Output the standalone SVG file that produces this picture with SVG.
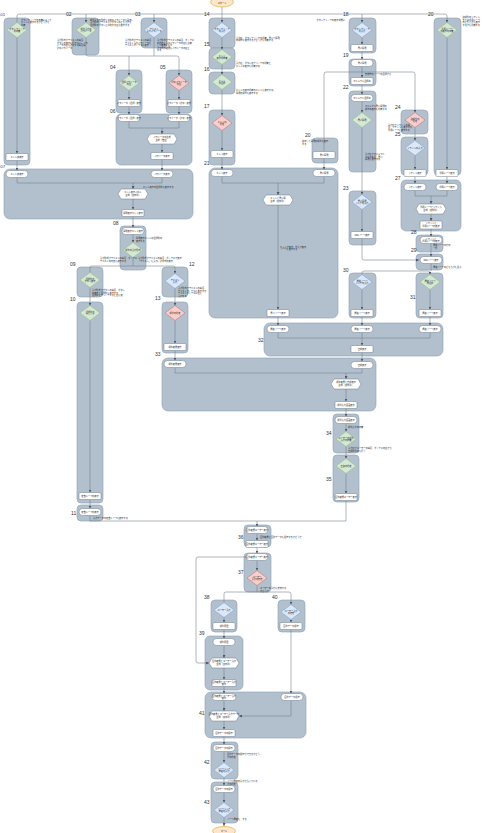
<svg xmlns="http://www.w3.org/2000/svg" xmlns:xlink="http://www.w3.org/1999/xlink" width="482" height="833" viewBox="0 0 482 833">
<style>
.c{fill:#b2c0ce;stroke:#8e9fb2;stroke-width:.6}
.dg{fill:#d5e8d4;stroke:#82b366;stroke-width:.4}
.db{fill:#dae8fc;stroke:#6c8ebf;stroke-width:.4}
.dr{fill:#f8cecc;stroke:#b85450;stroke-width:.4}
.n{fill:#fff;stroke:#5f6f80;stroke-width:.45}
.se{fill:#ffe6cc;stroke:#d79b00;stroke-width:.5}
.e{fill:none;stroke:#6f7a86;stroke-width:.55;marker-end:url(#ar)}
.l{fill:none;stroke:#6f7a86;stroke-width:.55}
text{font-family:"Noto Sans CJK JP","Noto Sans",sans-serif;fill:#222}
.t{font-size:2.2px;text-anchor:middle}
.a{font-size:2.2px}
.num{font-family:"Liberation Sans",sans-serif;font-size:5px;fill:#333}
</style>
<defs>
<marker id="ar" viewBox="0 0 6 6" refX="6" refY="3" markerWidth="3" markerHeight="3" orient="auto" markerUnits="userSpaceOnUse"><path d="M0,0L6,3L0,6Z" fill="#4d5763"/></marker>
<path id="dm" d="M-10,0L0,-7.5L10,0L0,7.5Z"/>
<path id="hx" d="M-15,0L-12,-5L12,-5L15,0L12,5L-12,5Z"/>
</defs>
<rect width="482" height="833" fill="#fff"/>

<g id="containers">
<rect class="c" x="4" y="18" width="26" height="147" rx="4"/>
<rect class="c" x="72" y="18" width="27" height="37" rx="4"/>
<rect class="c" x="141" y="18" width="26" height="30" rx="4"/>
<rect class="c" x="116" y="70" width="26" height="43" rx="4"/>
<rect class="c" x="166" y="70" width="26" height="43" rx="4"/>
<rect class="c" x="116" y="114" width="76" height="51" rx="5"/>
<rect class="c" x="4" y="169" width="189" height="50" rx="6"/>
<rect class="c" x="120" y="226" width="26" height="44" rx="4"/>
<rect class="c" x="77" y="267" width="26" height="30" rx="4"/>
<rect class="c" x="77" y="302" width="26" height="201" rx="4"/>
<rect class="c" x="77" y="505" width="26" height="16" rx="4"/>
<rect class="c" x="162" y="267" width="26" height="30" rx="4"/>
<rect class="c" x="162" y="302" width="26" height="51" rx="4"/>
<rect class="c" x="162" y="358" width="214" height="53" rx="6"/>
<rect class="c" x="209" y="18" width="26" height="30" rx="4"/>
<rect class="c" x="209" y="48" width="26" height="21" rx="4"/>
<rect class="c" x="209" y="72" width="26" height="22" rx="4"/>
<rect class="c" x="209" y="110" width="26" height="55" rx="4"/>
<rect class="c" x="209" y="168" width="129" height="150" rx="6"/>
<rect class="c" x="312" y="138" width="26" height="25" rx="4"/>
<rect class="c" x="349" y="18" width="27" height="35" rx="4"/>
<rect class="c" x="349" y="59" width="27" height="27" rx="4"/>
<rect class="c" x="349" y="91" width="27" height="81" rx="4"/>
<rect class="c" x="349" y="191" width="27" height="54" rx="4"/>
<rect class="c" x="401" y="110" width="27" height="24" rx="4"/>
<rect class="c" x="401" y="137" width="27" height="38" rx="4"/>
<rect class="c" x="434" y="18" width="27" height="157" rx="4"/>
<rect class="c" x="401" y="180" width="60" height="51" rx="5"/>
<rect class="c" x="416" y="235" width="27" height="17" rx="4"/>
<rect class="c" x="416" y="254" width="27" height="16" rx="4"/>
<rect class="c" x="349" y="273" width="27" height="45" rx="4"/>
<rect class="c" x="416" y="273" width="27" height="45" rx="4"/>
<rect class="c" x="264" y="323" width="179" height="33" rx="6"/>
<rect class="c" x="333" y="414" width="26" height="39" rx="4"/>
<rect class="c" x="333" y="455" width="26" height="47" rx="4"/>
<rect class="c" x="244" y="525" width="27" height="22" rx="4"/>
<rect class="c" x="244" y="553" width="27" height="39" rx="4"/>
<rect class="c" x="211" y="600" width="26" height="32" rx="4"/>
<rect class="c" x="278" y="600" width="27" height="32" rx="4"/>
<rect class="c" x="205" y="636" width="38" height="54" rx="5"/>
<rect class="c" x="205" y="692" width="101" height="46" rx="6"/>
<rect class="c" x="211" y="742" width="27" height="37" rx="4"/>
<rect class="c" x="211" y="782" width="27" height="41" rx="4"/>
</g>

<g id="numbers">
<text class="num" x="0.3" y="16" style="font-size:4.3px">01</text>
<text class="num" x="66" y="16">02</text>
<text class="num" x="135" y="16">03</text>
<text class="num" x="204" y="16">14</text>
<text class="num" x="343" y="16">18</text>
<text class="num" x="428" y="16">20</text>
<text class="num" x="110" y="69">04</text>
<text class="num" x="160" y="69">05</text>
<text class="num" x="110" y="113">06</text>
<text class="num" x="204" y="46">15</text>
<text class="num" x="204" y="71">16</text>
<text class="num" x="204" y="108">17</text>
<text class="num" x="0.3" y="168" style="font-size:4.3px">07</text>
<text class="num" x="113" y="225">08</text>
<text class="num" x="70" y="266">09</text>
<text class="num" x="70" y="301">10</text>
<text class="num" x="189" y="266">12</text>
<text class="num" x="155" y="300">13</text>
<text class="num" x="155" y="356">33</text>
<text class="num" x="71" y="515">11</text>
<text class="num" x="204" y="165">21</text>
<text class="num" x="305" y="137">20</text>
<text class="num" x="343" y="57">19</text>
<text class="num" x="343" y="89">22</text>
<text class="num" x="343" y="190">23</text>
<text class="num" x="395" y="109">24</text>
<text class="num" x="395" y="136">25</text>
<text class="num" x="395" y="180">27</text>
<text class="num" x="411" y="234">28</text>
<text class="num" x="411" y="252">29</text>
<text class="num" x="343" y="272">30</text>
<text class="num" x="410" y="299">31</text>
<text class="num" x="258" y="342">32</text>
<text class="num" x="326" y="435">34</text>
<text class="num" x="326" y="481">35</text>
<text class="num" x="238" y="539">36</text>
<text class="num" x="238" y="574">37</text>
<text class="num" x="204" y="599">38</text>
<text class="num" x="272" y="599">40</text>
<text class="num" x="199" y="635">39</text>
<text class="num" x="199" y="715">41</text>
<text class="num" x="204" y="764">42</text>
<text class="num" x="204" y="804">43</text>
</g>

<g id="connectors">
<path class="e" d="M222,7V22.5"/>
<path class="e" d="M17,22.5V16Q17,14 19,14H445Q447,14 447,16V22.5"/>
<path class="e" d="M86,14V22.5"/>
<path class="e" d="M154,14V22.5"/>
<path class="e" d="M362,14V22.5"/>
<path class="e" d="M17,37.5V153.5"/>
<path class="e" d="M17,160.5V170.5"/>
<path class="e" d="M86,37.5V54Q86,56 88,56H177Q179,56 179,58V75.5"/>
<path class="e" d="M129,56V75.5"/>
<path class="l" d="M154,37.5V56"/>
<path class="e" d="M129,90.5V99.5"/>
<path class="e" d="M129,106.5V114.5"/>
<path class="e" d="M179,90.5V99.5"/>
<path class="e" d="M179,106.5V114.5"/>
<path class="l" d="M129,121.5V128H179V121.5"/>
<path class="e" d="M162,128V134"/>
<path class="e" d="M162,144V152.5"/>
<path class="e" d="M162,159.5V170.5"/>
<path class="l" d="M17,177.5V183H162V177.5"/>
<path class="e" d="M133,183V189"/>
<path class="e" d="M133,199V209.5"/>
<path class="e" d="M133,216.5V227.5"/>
<path class="e" d="M133,234.5V242.5"/>
<path class="l" d="M133,257.5V266"/>
<path class="e" d="M90,272.5V268Q90,266 92,266H173Q175,266 175,268V273.5"/>
<path class="e" d="M90,287.5V305.5"/>
<path class="e" d="M90,320.5V492.5"/>
<path class="e" d="M90,499.5V508.5"/>
<path class="e" d="M90,515.5V521H257V526.5"/>
<path class="e" d="M175,288.5V305.5"/>
<path class="e" d="M175,320.5V343.5"/>
<path class="e" d="M175,350.5V360.5"/>
<path class="e" d="M175,367.5V373H346V379"/>
<path class="l" d="M362,368.5V373H346"/>
<path class="e" d="M222,37.5V49.5"/>
<path class="e" d="M222,64.5V74.5"/>
<path class="e" d="M222,89.5V115.5"/>
<path class="e" d="M222,130.5V150.5"/>
<path class="e" d="M222,157.5V169.5"/>
<path class="l" d="M222,176.5V183H324V176.5"/>
<path class="e" d="M278,183V195"/>
<path class="e" d="M278,205V309.5"/>
<path class="e" d="M278,316.5V325.5"/>
<path class="e" d="M324,158.5V169.5"/>
<path class="e" d="M362,37.5V44.5"/>
<path class="e" d="M362,51.5V59.5"/>
<path class="e" d="M324,151.5V74Q324,72 326,72H413Q415,72 415,74V112.5"/>
<path class="l" d="M362,66.5V72"/>
<path class="e" d="M362,72V77.5"/>
<path class="e" d="M362,84.5V94.5"/>
<path class="e" d="M362,101.5V112.5"/>
<path class="e" d="M362,127.5V194.5"/>
<path class="e" d="M362,209.5V231.5"/>
<path class="e" d="M362,238.5V258Q362,260 364,260H419"/>
<path class="e" d="M415,127.5V140.5"/>
<path class="e" d="M415,155.5V169.5"/>
<path class="e" d="M415,176.5V183.5"/>
<path class="e" d="M447,37.5V169.5"/>
<path class="e" d="M447,176.5V183.5"/>
<path class="l" d="M415,190.5V196H447V190.5"/>
<path class="e" d="M431,196V204"/>
<path class="e" d="M431,214V221"/>
<path class="e" d="M431,229V236.5"/>
<path class="e" d="M431,243.5V256.5"/>
<path class="l" d="M431,263.5V271"/>
<path class="e" d="M362,274.5V273Q362,271 364,271H428Q430,271 430,273V274.5"/>
<path class="e" d="M362,289.5V309.5"/>
<path class="e" d="M362,316.5V325.5"/>
<path class="e" d="M430,289.5V309.5"/>
<path class="e" d="M430,316.5V325.5"/>
<path class="l" d="M278,332.5V338H430V332.5"/>
<path class="e" d="M362,332.5V345.5"/>
<path class="e" d="M362,352.5V361.5"/>
<path class="e" d="M346,389V401.5"/>
<path class="e" d="M346,408.5V416.5"/>
<path class="e" d="M346,423.5V431.5"/>
<path class="e" d="M346,446.5V458.5"/>
<path class="e" d="M346,473.5V493.5"/>
<path class="l" d="M346,500.5V521H257"/>
<path class="e" d="M257,533.5V540.5"/>
<path class="e" d="M257,547.5V553.5"/>
<path class="e" d="M257,560.5V570.5"/>
<path class="e" d="M246,557H198Q196,557 196,559V661Q196,663 198,663H209"/>
<path class="l" d="M257,585.5V592"/>
<path class="e" d="M224,602.5V594Q224,592 226,592H289Q291,592 291,594V604.5"/>
<path class="e" d="M224,617.5V622.5"/>
<path class="e" d="M224,629.5V638.5"/>
<path class="e" d="M224,645.5V658"/>
<path class="e" d="M224,668V679.5"/>
<path class="e" d="M224,686.5V693.5"/>
<path class="e" d="M224,700.5V711"/>
<path class="e" d="M224,721V729.5"/>
<path class="e" d="M224,736.5V744.5"/>
<path class="e" d="M224,751.5V762.5"/>
<path class="e" d="M224,777.5V785.5"/>
<path class="e" d="M224,792.5V802.5"/>
<path class="e" d="M224,817.5V826"/>
<path class="e" d="M291,619.5V622.5"/>
<path class="e" d="M291,629.5V693.5"/>
<path class="e" d="M291,700.5V716H239"/>
</g>

<g id="start"><ellipse class="se" cx="222" cy="2" rx="11.5" ry="5"/><text class="t" x="222" y="3.5">スタート</text></g>
<g id="end"><ellipse class="se" cx="224" cy="831" rx="11.5" ry="4.5"/><text class="t" x="224" y="832">ゴール</text></g>

<g id="d01"><use href="#dm" x="17" y="30" class="dg"/><text class="t" x="17" y="29.6">ボタンクリック</text><text class="t" x="17" y="32.2">の有無</text></g>
<g id="d02"><use href="#dm" x="86" y="30" class="dg"/><text class="t" x="86" y="29.6">解答入力の</text><text class="t" x="86" y="32.2">パラメータ</text></g>
<g id="d03"><use href="#dm" x="154" y="30" class="db"/><text class="t" x="154" y="29.6">テキスト</text><text class="t" x="154" y="32.2">入力パラメータ</text></g>
<g id="d04"><use href="#dm" x="129" y="83" class="dg"/><text class="t" x="129" y="82.6">選択パラメータ</text><text class="t" x="129" y="85.2">の値</text></g>
<g id="d05"><use href="#dm" x="179" y="83" class="dr"/><text class="t" x="179" y="82.6">計算パラメータ</text><text class="t" x="179" y="85.2">の値</text></g>
<g id="d08"><use href="#dm" x="133" y="250" class="dg"/><text class="t" x="133" y="250.8">解答の入力形式</text></g>
<g id="d09"><use href="#dm" x="90" y="280" class="dg"/><text class="t" x="90" y="279.6">選択肢の</text><text class="t" x="90" y="282.2">ボタン表示</text></g>
<g id="d10"><use href="#dm" x="90" y="313" class="dg"/><text class="t" x="90" y="312.6">選択肢の</text><text class="t" x="90" y="315.2">クリック</text></g>
<g id="d12"><use href="#dm" x="175" y="281" class="db"/><text class="t" x="175" y="280.6">テキスト</text><text class="t" x="175" y="283.2">入力</text></g>
<g id="d13"><use href="#dm" x="175" y="313" class="dr"/><text class="t" x="175" y="313.8">解答の判定</text></g>
<g id="d14"><use href="#dm" x="222" y="30" class="db"/><text class="t" x="222" y="29.6">ボタンクリック</text><text class="t" x="222" y="32.2">の入力</text></g>
<g id="d15"><use href="#dm" x="222" y="57" class="dg"/><text class="t" x="222" y="56.6">ヒント</text><text class="t" x="222" y="59.2">表示の有無</text></g>
<g id="d16"><use href="#dm" x="222" y="82" class="dg"/><text class="t" x="222" y="81.6">ヒント</text><text class="t" x="222" y="84.2">の選択</text></g>
<g id="d17"><use href="#dm" x="222" y="123" class="dr"/><text class="t" x="222" y="122.6">ヒントの</text><text class="t" x="222" y="125.2">判定</text></g>
<g id="d18"><use href="#dm" x="362" y="30" class="db"/><text class="t" x="362" y="29.6">ボタンクリック</text><text class="t" x="362" y="32.2">の入力</text></g>
<g id="d22"><use href="#dm" x="362" y="120" class="dg"/><text class="t" x="362" y="120.8">書い問題</text></g>
<g id="d23"><use href="#dm" x="362" y="202" class="db"/><text class="t" x="362" y="201.6">書い問題</text><text class="t" x="362" y="204.2">リンクの入力</text></g>
<g id="d24"><use href="#dm" x="415" y="120" class="dr"/><text class="t" x="415" y="119.6">誤解答の</text><text class="t" x="415" y="122.2">判定</text></g>
<g id="d25"><use href="#dm" x="415" y="148" class="db"/><text class="t" x="415" y="148.8">リサイトの入力</text></g>
<g id="d26"><use href="#dm" x="447" y="30" class="dg"/><text class="t" x="447" y="29.6">汎用ループ</text><text class="t" x="447" y="32.2">の表示の有無</text></g>
<g id="d30"><use href="#dm" x="362" y="282" class="db"/><text class="t" x="362" y="281.6">遷移ページ</text><text class="t" x="362" y="284.2">リンクの入力</text></g>
<g id="d31"><use href="#dm" x="430" y="282" class="dg"/><text class="t" x="430" y="281.6">遷移ページ</text><text class="t" x="430" y="284.2">の選択</text></g>
<g id="d34"><use href="#dm" x="346" y="439" class="dg"/><text class="t" x="346" y="438.6">ユーザーの解答</text><text class="t" x="346" y="441.2">入力の有無</text></g>
<g id="d35"><use href="#dm" x="346" y="466" class="dg"/><text class="t" x="346" y="466.8">正誤の判定</text></g>
<g id="d37"><use href="#dm" x="257" y="578" class="dr"/><text class="t" x="257" y="577.6">ユーザー</text><text class="t" x="257" y="580.2">入力の変換</text></g>
<g id="d38"><use href="#dm" x="224" y="610" class="db"/><text class="t" x="224" y="610.8">ユーザー入力</text></g>
<g id="d40"><use href="#dm" x="291" y="612" class="db"/><text class="t" x="291" y="611.6">ユーザー入力</text><text class="t" x="291" y="614.2">の変換</text></g>
<g id="d42"><use href="#dm" x="224" y="770" class="db"/><text class="t" x="224" y="769.6">ページリンク</text><text class="t" x="224" y="772.2">遷移の入力</text></g>
<g id="d43"><use href="#dm" x="224" y="810" class="db"/><text class="t" x="224" y="809.6">ページリンク</text><text class="t" x="224" y="812.2">遷移の入力</text></g>

<g id="h06"><use href="#hx" x="162" y="139" class="n"/><text class="t" x="162" y="138.4">パラメータの生成</text><text class="t" x="162" y="141.2">生成（数値）</text></g>
<g id="h07"><use href="#hx" x="133" y="194" class="n"/><text class="t" x="133" y="193.4">ヒント表示パネル</text><text class="t" x="133" y="196.2">生成（文字列）</text></g>
<g id="h21"><use href="#hx" x="278" y="200" class="n"/><text class="t" x="278" y="199.4">ヒントと書い問</text><text class="t" x="278" y="202.2">生成（文字列）</text></g>
<g id="h27"><use href="#hx" x="431" y="209" class="n"/><text class="t" x="431" y="208.4">汎用ループとリサイト</text><text class="t" x="431" y="211.2">生成（文字列）</text></g>
<g id="h33"><use href="#hx" x="346" y="384" class="n"/><text class="t" x="346" y="383.4">解答結果と正解表示</text><text class="t" x="346" y="386.2">生成（文字列）</text></g>
<g id="h39"><use href="#hx" x="224" y="663" class="n"/><text class="t" x="224" y="662.4">回答結果とユーザー入力</text><text class="t" x="224" y="665.2">生成（文字列）</text></g>
<g id="h41"><use href="#hx" x="224" y="716" class="n"/><text class="t" x="224" y="715.4">回答結果とユーザー入力データ</text><text class="t" x="224" y="718.2">生成（文字列）</text></g>

<g id="n01"><rect class="n" x="6" y="153.5" width="22" height="7" rx="1"/><text class="t" x="17" y="157.8">ヒント非表示</text></g>
<g id="n04"><rect class="n" x="118" y="99.5" width="22" height="7" rx="1"/><text class="t" x="129" y="103.8">パラメータ（選択）表示</text></g>
<g id="n05"><rect class="n" x="168" y="99.5" width="22" height="7" rx="1"/><text class="t" x="179" y="103.8">パラメータ（計算）表示</text></g>
<g id="n06a"><rect class="n" x="118" y="114.5" width="22" height="7" rx="3.5"/><text class="t" x="129" y="118.8">パラメータ（選択）表示</text></g>
<g id="n06b"><rect class="n" x="168" y="114.5" width="22" height="7" rx="3.5"/><text class="t" x="179" y="118.8">パラメータ（計算）表示</text></g>
<g id="n06c"><rect class="n" x="151" y="152.5" width="22" height="7" rx="1"/><text class="t" x="162" y="156.8">パラメータ表示</text></g>
<g id="n07a"><rect class="n" x="6" y="170.5" width="22" height="7" rx="3.5"/><text class="t" x="17" y="174.8">ヒント非表示</text></g>
<g id="n07b"><rect class="n" x="151" y="170.5" width="22" height="7" rx="3.5"/><text class="t" x="162" y="174.8">パラメータ表示</text></g>
<g id="n07c"><rect class="n" x="122" y="209.5" width="22" height="7" rx="1"/><text class="t" x="133" y="213.8">問題表示ヒント表示</text></g>
<g id="n08"><rect class="n" x="122" y="227.5" width="22" height="7" rx="3.5"/><text class="t" x="133" y="231.8">問題表示ヒント表示</text></g>
<g id="n10"><rect class="n" x="79" y="492.5" width="22" height="7" rx="1"/><text class="t" x="90" y="496.8">定数ループの表示</text></g>
<g id="n11"><rect class="n" x="79" y="508.5" width="22" height="7" rx="3.5"/><text class="t" x="90" y="512.8">定数ループの表示</text></g>
<g id="n13"><rect class="n" x="164" y="343.5" width="22" height="7" rx="1"/><text class="t" x="175" y="347.8">解答結果表示</text></g>
<g id="n33a"><rect class="n" x="164" y="360.5" width="22" height="7" rx="3.5"/><text class="t" x="175" y="364.8">解答結果表示</text></g>
<g id="n33b"><rect class="n" x="351" y="361.5" width="22" height="7" rx="3.5"/><text class="t" x="362" y="365.8">正解表示</text></g>
<g id="n33c"><rect class="n" x="335" y="401.5" width="22" height="7" rx="1"/><text class="t" x="346" y="405.8">解答入力画面表示</text></g>
<g id="n34"><rect class="n" x="335" y="416.5" width="22" height="7" rx="3.5"/><text class="t" x="346" y="420.8">解答入力画面表示</text></g>
<g id="n35"><rect class="n" x="335" y="493.5" width="22" height="7" rx="1"/><text class="t" x="346" y="497.8">回答結果ユーザー表示</text></g>
<g id="n17"><rect class="n" x="211" y="150.5" width="22" height="7" rx="1"/><text class="t" x="222" y="154.8">ヒント表示</text></g>
<g id="n21a"><rect class="n" x="211" y="169.5" width="22" height="7" rx="3.5"/><text class="t" x="222" y="173.8">ヒント表示</text></g>
<g id="n21b"><rect class="n" x="313" y="169.5" width="22" height="7" rx="3.5"/><text class="t" x="324" y="173.8">書い問題</text></g>
<g id="n21c"><rect class="n" x="267" y="309.5" width="22" height="7" rx="1"/><text class="t" x="278" y="313.8">書いページ表示</text></g>
<g id="n20"><rect class="n" x="313" y="151.5" width="22" height="7" rx="1"/><text class="t" x="324" y="155.8">書い問題</text></g>
<g id="n18"><rect class="n" x="351" y="44.5" width="22" height="7" rx="1"/><text class="t" x="362" y="48.8">書い問題</text></g>
<g id="n19a"><rect class="n" x="351" y="59.5" width="22" height="7" rx="3.5"/><text class="t" x="362" y="63.8">書い問題</text></g>
<g id="n19b"><rect class="n" x="351" y="77.5" width="22" height="7" rx="1"/><text class="t" x="362" y="81.8">マニュアル選択等</text></g>
<g id="n22"><rect class="n" x="351" y="94.5" width="22" height="7" rx="3.5"/><text class="t" x="362" y="98.8">マニュアル選択等</text></g>
<g id="n23"><rect class="n" x="351" y="231.5" width="22" height="7" rx="1"/><text class="t" x="362" y="235.8">SNSページ表示</text></g>
<g id="n25"><rect class="n" x="404" y="169.5" width="22" height="7" rx="1"/><text class="t" x="415" y="173.8">リサイト表示</text></g>
<g id="n26"><rect class="n" x="436" y="169.5" width="22" height="7" rx="1"/><text class="t" x="447" y="173.8">汎用ループ表示</text></g>
<g id="n27a"><rect class="n" x="404" y="183.5" width="22" height="7" rx="3.5"/><text class="t" x="415" y="187.8">リサイト表示</text></g>
<g id="n27b"><rect class="n" x="436" y="183.5" width="22" height="7" rx="3.5"/><text class="t" x="447" y="187.8">汎用ループ表示</text></g>
<g id="n27c"><rect class="n" x="420" y="221" width="22" height="8" rx="1"/><text class="t" x="431" y="224.4">リサイトと</text><text class="t" x="431" y="227.2">汎用ループの表示</text></g>
<g id="n28"><rect class="n" x="420" y="236.5" width="22" height="7" rx="3.5"/><text class="t" x="431" y="239.5">リサイトと</text><text class="t" x="431" y="242.1">汎用ループの表示</text></g>
<g id="n29"><rect class="n" x="420" y="256.5" width="22" height="7" rx="3.5"/><text class="t" x="431" y="260.8">SNSページ表示</text></g>
<g id="n30"><rect class="n" x="351" y="309.5" width="22" height="7" rx="1"/><text class="t" x="362" y="313.8">遷移ページ表示</text></g>
<g id="n31"><rect class="n" x="419" y="309.5" width="22" height="7" rx="1"/><text class="t" x="430" y="313.8">遷移ページ表示</text></g>
<g id="n32a"><rect class="n" x="267" y="325.5" width="22" height="7" rx="3.5"/><text class="t" x="278" y="329.8">遷移ページ表示</text></g>
<g id="n32b"><rect class="n" x="351" y="325.5" width="22" height="7" rx="3.5"/><text class="t" x="362" y="329.8">遷移ページ表示</text></g>
<g id="n32c"><rect class="n" x="419" y="325.5" width="22" height="7" rx="3.5"/><text class="t" x="430" y="329.8">遷移ページ表示</text></g>
<g id="n32d"><rect class="n" x="351" y="345.5" width="22" height="7" rx="1"/><text class="t" x="362" y="349.8">正解表示</text></g>
<g id="n36a"><rect class="n" x="246" y="526.5" width="22" height="7" rx="3.5"/><text class="t" x="257" y="530.8">回答結果ユーザー表示</text></g>
<g id="n36b"><rect class="n" x="246" y="540.5" width="22" height="7" rx="1"/><text class="t" x="257" y="544.8">回答結果ユーザー表示</text></g>
<g id="n37"><rect class="n" x="246" y="553.5" width="22" height="7" rx="3.5"/><text class="t" x="257" y="557.8">回答結果ユーザー表示</text></g>
<g id="n38"><rect class="n" x="213" y="622.5" width="22" height="7" rx="1"/><text class="t" x="224" y="626.8">解答履歴</text></g>
<g id="n40"><rect class="n" x="280" y="622.5" width="22" height="7" rx="1"/><text class="t" x="291" y="626.8">回答データ保存</text></g>
<g id="n39a"><rect class="n" x="213" y="638.5" width="22" height="7" rx="3.5"/><text class="t" x="224" y="642.8">解答履歴</text></g>
<g id="n39b"><rect class="n" x="212" y="679.5" width="24" height="7" rx="1"/><text class="t" x="224" y="682.5">回答結果とユーザー入力</text><text class="t" x="224" y="685.1">表示</text></g>
<g id="n41a"><rect class="n" x="212" y="693.5" width="24" height="7" rx="3.5"/><text class="t" x="224" y="696.5">回答結果とユーザー入力</text><text class="t" x="224" y="699.1">表示</text></g>
<g id="n41b"><rect class="n" x="281" y="693.5" width="22" height="7" rx="3.5"/><text class="t" x="292" y="697.8">回答データ保存</text></g>
<g id="n41c"><rect class="n" x="213" y="729.5" width="22" height="7" rx="1"/><text class="t" x="224" y="733.8">回答データの保存</text></g>
<g id="n42"><rect class="n" x="213" y="744.5" width="22" height="7" rx="3.5"/><text class="t" x="224" y="748.8">回答データの保存</text></g>
<g id="n43"><rect class="n" x="213" y="785.5" width="22" height="7" rx="3.5"/><text class="t" x="224" y="789.8">回答データの保存</text></g>

<g id="notes">
<text class="a" x="21" y="20.5">ボタンクリックの有無によって</text>
<text class="a" x="21" y="23">ヒントを表示するかどうかを</text>
<text class="a" x="21" y="25.5">判断</text>
<text class="a" x="90" y="20.5">解答入力の形式を決めるパラメータを設定。</text>
<text class="a" x="90" y="23">入力形式がテキストかボタンのどちらかを</text>
<text class="a" x="90" y="25.5">選択肢のボタンと対応する値を表示する</text>
<text class="a" x="57" y="41">入力形式がテキストの場合、</text>
<text class="a" x="57" y="43.5">ボタンの表示を行わない。パラ</text>
<text class="a" x="57" y="46">メータの値を計算する場合は</text>
<text class="a" x="57" y="48.5">計算パラメータ</text>
<text class="a" x="125" y="41">入力形式がテキストの場合、</text>
<text class="a" x="125" y="43.5">テキスト入力パラメータを</text>
<text class="a" x="125" y="46">テキストボックスに表示</text>
<text class="a" x="157" y="41">入力形式がテキストの場合、ボックス</text>
<text class="a" x="157" y="43.5">の内容と入力パラメータの値を比較</text>
<text class="a" x="157" y="46">して結果を返す</text>
<text class="a" x="157" y="48.5">計算式の結果をパラメータの値と</text>
<text class="a" x="157" y="51">する</text>
<text class="a" x="236" y="38.5">入力値、ボタンクリックの判断、書いた問題</text>
<text class="a" x="236" y="41">の解答を表示するかどうかを判断する</text>
<text class="a" x="236" y="64">入力値、ボタンのクリックの判断と</text>
<text class="a" x="236" y="66.5">ヒントの表示を判断する</text>
<text class="a" x="236" y="91">ヒントの表示判断のヒントを表示する。</text>
<text class="a" x="236" y="93.5">問題の解答を表示する</text>
<text class="a" x="345" y="20.5" text-anchor="end">ボタンクリックの表示状態に</text>
<text class="a" x="462.5" y="18">誤解答のリサイト</text>
<text class="a" x="462.5" y="20.5">または汎用ループ</text>
<text class="a" x="462.5" y="23">のどちらかを表示</text>
<text class="a" x="462.5" y="25.5">するかを判断する</text>
<text class="a" x="365" y="74.5">変換時のページの選択から</text>
<text class="a" x="365" y="107">マニュアル書い問題の</text>
<text class="a" x="365" y="109.5">解答の表示を判断する</text>
<text class="a" x="365" y="155">入力値がマニュアル</text>
<text class="a" x="365" y="157.5">である場合、書い</text>
<text class="a" x="365" y="160">問題を表示する</text>
<text class="a" x="302" y="142">誤字した問題の解答を表示</text>
<text class="a" x="302" y="144.5">する</text>
<text class="a" x="388" y="125.5">入力値がリサイトの場</text>
<text class="a" x="388" y="128">合、リサイトを表示する</text>
<text class="a" x="388" y="130.5">汎用ループを表示する</text>
<text class="a" x="280" y="247.5">ヒントが表示、答えが表示</text>
<text class="a" x="280" y="250">ページを表示する</text>
<text class="a" x="433" y="246">遷移ページ出力の</text>
<text class="a" x="433" y="248.5">一覧</text>
<text class="a" x="433" y="267.5">遷移ページのどちらかを選ぶ</text>
<text class="a" x="143" y="187.5">ヒント表示の選択肢を表示する</text>
<text class="a" x="136" y="239">問題表示ヒントの選択肢の</text>
<text class="a" x="136" y="241.5">表示する</text>
<text class="a" x="100" y="259">入力形式がテキストの場合、ボックス</text>
<text class="a" x="100" y="261.5">テキストの内容を表示する</text>
<text class="a" x="138" y="259">入力形式がテキストの場合、ボックスで表示</text>
<text class="a" x="138" y="261.5">「テキスト」を入力。計算式の表示</text>
<text class="a" x="92" y="291">入力形式がボタンの場合、ボタン</text>
<text class="a" x="92" y="293.5">の表示と選択肢を表示する</text>
<text class="a" x="92" y="296">選択肢をクリックすると値を表</text>
<text class="a" x="178" y="289">入力形式がテキストの場合、</text>
<text class="a" x="178" y="291.5">テキストボックスを表示する</text>
<text class="a" x="178" y="294">テキストボックスに値を</text>
<text class="a" x="178" y="296.5">入力する</text>
<text class="a" x="348" y="427.5">解答入力の有無</text>
<text class="a" x="348" y="449">入力値がユーザーの場合、ボックスの値から</text>
<text class="a" x="348" y="451.5">正解の判定を行う</text>
<text class="a" x="93" y="519">入力データの定数ループを表示する</text>
<text class="a" x="260" y="537.5">回答結果と回答データを保存するかどうか</text>
<text class="a" x="260" y="589">ユーザーの入力を変換する</text>
<text class="a" x="260" y="591.5">かどうか</text>
<text class="a" x="227" y="755">回答データの保存ができるかどう</text>
<text class="a" x="227" y="757.5">かの判定</text>
<text class="a" x="227" y="782">ページ遷移の入力が入っている</text>
<text class="a" x="227" y="784.5">かの判定</text>
<text class="a" x="227" y="820">ページ遷移を、する</text>
</g>
</svg>
